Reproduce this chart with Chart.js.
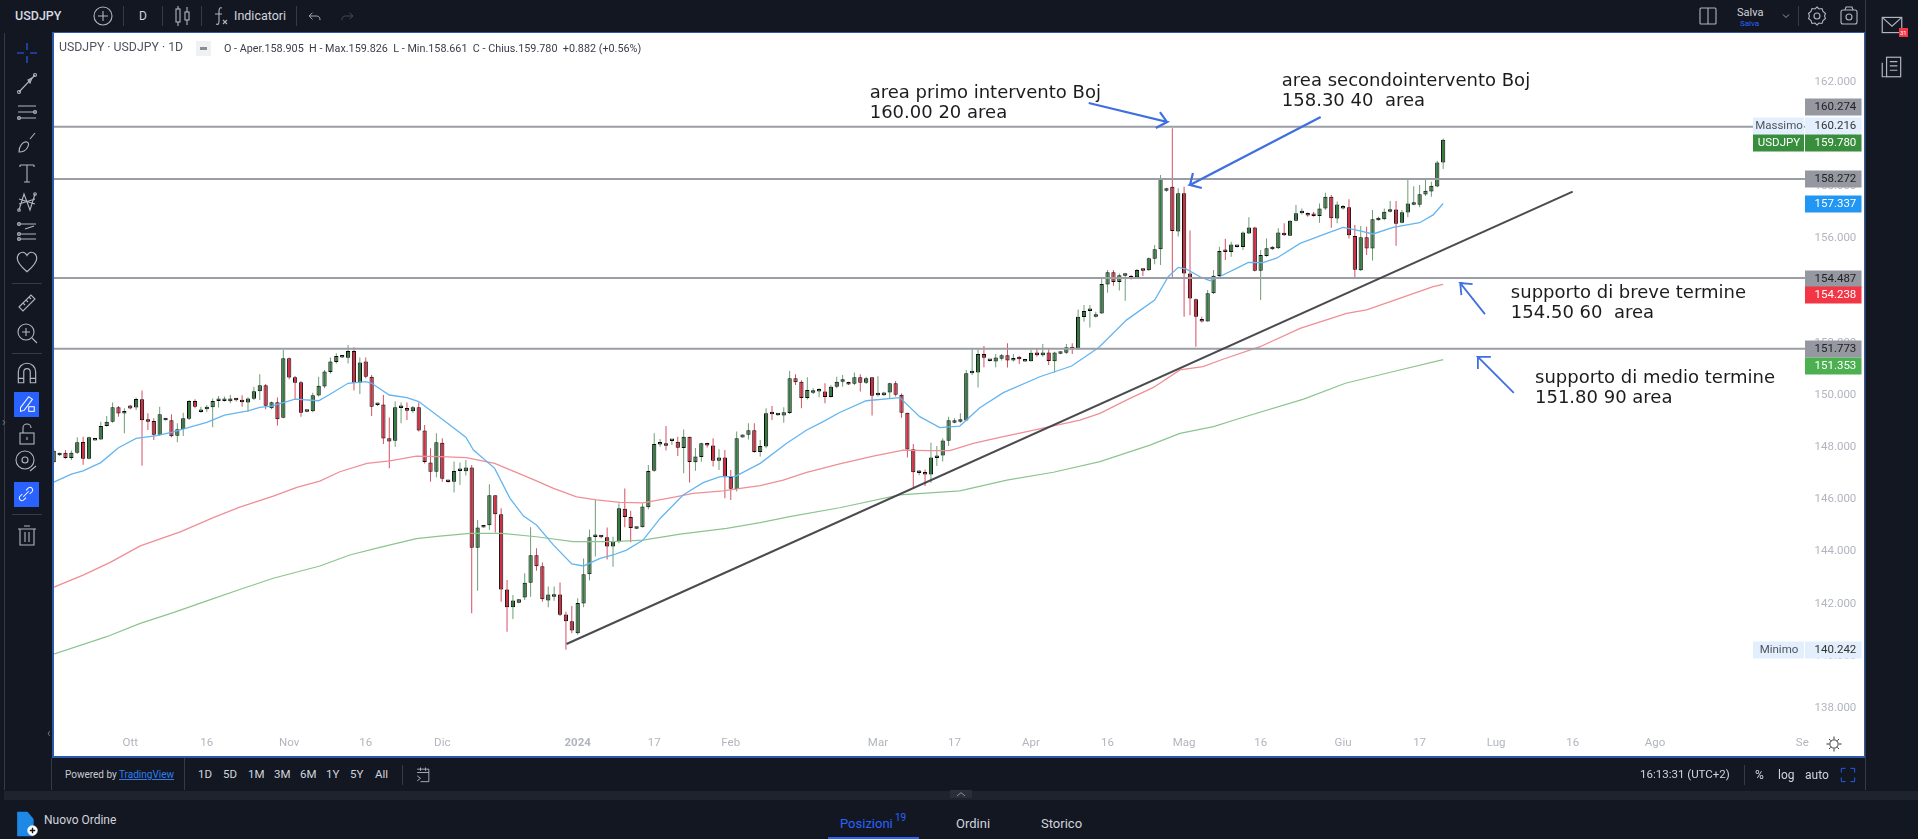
<!DOCTYPE html>
<html><head><meta charset="utf-8"><title>USDJPY</title>
<script src="https://cdn.jsdelivr.net/npm/chart.js@4"></script>
<style>
html,body{margin:0;padding:0;background:#131722;width:1918px;height:839px;overflow:hidden;font-family:Roboto,"Liberation Sans",sans-serif;color:#d1d4dc}
#panel{position:absolute;left:53px;top:33px;width:1811px;height:724px;background:#fff}
canvas{position:absolute;left:0;top:0}
.fr{position:absolute;background:#2c5aa8}
.t{position:absolute;white-space:pre;line-height:1;transform:translateY(-50%)}
.sep{position:absolute;width:1px;background:#363a45}
svg.i{position:absolute;fill:none;stroke:#b2b5be;stroke-width:1.1}
</style></head><body>
<div id="panel"><canvas id="c" width="1811" height="724"></canvas></div>
<div class="fr" style="left:52px;top:32px;width:1812px;height:1px"></div>
<div class="fr" style="left:52px;top:32px;width:1.5px;height:726px"></div>
<div class="fr" style="left:52px;top:756px;width:1813px;height:2px"></div>
<div class="fr" style="left:1863.5px;top:32px;width:1px;height:726px"></div>
<div id="ui"></div>
<script>
const opens=[147.42,147.69,147.79,147.59,147.79,148.20,147.56,148.26,148.30,148.81,
148.98,149.53,149.29,149.60,149.52,149.84,149.00,149.00,148.48,149.03,
149.03,148.44,148.69,149.09,149.77,149.35,149.45,149.53,149.77,149.77,
149.76,149.81,149.76,149.71,149.86,150.14,150.37,149.49,149.72,149.13,
151.41,150.68,150.49,149.36,149.38,149.98,150.33,150.88,151.26,151.44,
151.43,151.69,150.47,151.28,150.70,149.62,149.64,148.34,148.25,149.50,
149.50,149.38,149.53,148.64,147.41,147.06,148.17,146.71,146.68,147.09,
147.08,147.22,144.15,144.92,145.01,146.16,145.43,142.55,141.87,142.04,
142.24,142.81,143.86,143.44,142.13,142.27,142.36,141.59,141.33,140.87,
142.01,143.13,144.56,144.59,144.55,144.20,144.39,145.64,145.33,144.88,
144.93,145.70,147.10,148.10,148.15,148.24,148.21,147.97,148.40,147.42,
147.62,148.09,148.07,147.48,147.61,146.86,146.40,148.37,148.48,148.65,
147.82,148.03,149.29,149.22,149.21,149.31,150.64,150.51,149.89,150.09,
150.13,150.13,149.92,150.32,150.51,150.49,150.43,150.68,150.47,150.68,
149.99,149.99,150.10,150.45,150.01,149.32,147.92,147.01,147.03,146.95,
147.59,147.68,148.25,148.94,148.98,149.02,150.83,150.86,151.57,151.30,
151.28,151.39,151.52,151.32,151.39,151.28,151.29,151.63,151.52,151.63,
151.29,151.58,151.62,151.81,151.75,152.99,153.22,153.00,153.12,154.23,
154.70,154.33,154.57,154.56,154.51,154.79,154.78,155.22,155.58,157.83,
157.98,156.26,157.73,154.66,153.67,152.91,152.82,153.90,154.56,155.53,
155.48,155.67,155.67,156.19,156.42,154.76,155.33,155.58,155.62,156.22,
156.10,156.68,156.96,156.92,156.88,156.86,157.15,157.60,156.76,157.15,
157.19,156.09,154.78,156.04,155.61,156.70,156.73,157.02,157.11,156.60,
156.99,157.29,157.29,157.68,157.80,157.99,158.905];
const closes=[147.86,147.75,147.59,147.79,148.19,147.56,148.38,148.30,148.81,148.98,
149.53,149.29,149.35,149.48,149.85,149.03,148.98,148.48,149.26,149.11,
148.42,148.69,149.11,149.77,149.55,149.41,149.50,149.77,149.80,149.80,
149.87,149.80,149.72,149.87,150.14,150.37,149.59,149.72,149.07,151.41,
150.67,150.47,149.32,149.39,149.99,150.35,150.90,151.28,151.49,151.47,
151.69,150.47,151.25,150.70,149.55,149.64,148.33,148.22,149.53,149.52,
149.40,149.53,148.64,147.43,147.06,148.19,146.79,146.67,147.09,147.11,
147.22,144.15,144.92,145.01,146.16,145.43,142.55,141.87,142.13,142.17,
142.81,143.86,143.44,142.17,142.36,142.36,141.58,141.33,140.98,142.03,
143.13,144.55,144.59,144.55,144.20,144.39,145.66,145.33,144.90,144.94,
145.73,147.09,148.12,148.14,148.06,148.26,147.98,148.40,147.43,147.64,
148.15,148.07,147.48,147.61,146.85,146.41,148.34,148.49,148.65,147.82,
148.05,149.30,149.26,149.25,149.34,150.64,150.49,149.89,150.19,150.13,
150.15,149.92,150.32,150.51,150.54,150.40,150.68,150.47,150.64,149.97,
150.09,150.10,150.45,150.01,149.32,147.91,147.04,147.04,146.95,147.61,
147.68,148.26,149.03,148.97,149.03,150.83,150.86,151.57,151.43,151.33,
151.44,151.52,151.32,151.40,151.37,151.32,151.62,151.52,151.63,151.30,
151.63,151.61,151.83,151.75,153.00,153.22,153.26,153.05,154.25,154.70,
154.33,154.59,154.66,154.46,154.79,154.76,155.24,155.58,158.30,157.88,
156.28,157.73,154.66,153.70,153.00,152.82,153.90,154.57,155.52,155.48,
155.77,155.70,156.23,156.42,154.76,155.36,155.62,155.66,156.23,156.12,
156.68,156.96,156.99,156.88,156.86,157.15,157.60,156.77,157.30,157.18,
156.12,154.80,156.04,155.61,156.73,156.73,157.02,157.11,156.56,157.00,
157.34,157.32,157.69,157.83,158.02,158.91,159.78];
const highs=[147.96,147.79,147.89,147.87,148.38,148.40,148.40,148.30,148.98,149.20,
149.71,149.58,149.49,149.62,149.90,150.17,149.30,149.11,149.55,149.11,
149.26,148.92,149.32,149.81,149.84,149.55,149.62,149.87,149.96,149.94,
150.00,149.87,149.99,149.91,150.32,150.80,150.42,149.75,149.90,151.72,
151.44,150.73,150.54,149.41,150.09,150.70,150.96,151.44,151.60,151.49,
151.92,151.83,151.44,151.44,150.77,149.68,150.00,149.14,149.75,149.71,
149.71,149.58,149.71,148.85,147.96,148.53,148.34,146.73,147.45,147.41,
147.51,147.32,145.21,145.01,146.58,146.16,145.66,142.91,142.34,142.17,
143.17,144.93,144.13,143.58,142.66,142.66,142.82,141.70,141.92,142.21,
143.74,144.85,145.98,144.64,144.92,144.57,145.85,146.42,145.57,144.94,
145.85,147.32,148.53,148.31,148.81,148.28,148.40,148.68,148.40,147.97,
148.17,148.17,148.34,147.92,147.89,147.13,148.60,148.49,148.92,148.92,
148.28,149.49,149.58,149.27,149.53,150.92,150.80,150.57,150.68,150.26,
150.26,150.45,150.38,150.70,150.77,150.51,150.86,150.80,150.70,150.68,
150.72,150.12,150.47,150.54,150.06,149.32,148.12,147.13,147.15,148.17,
148.05,148.34,149.17,149.11,149.30,150.96,151.79,151.79,151.88,151.35,
151.57,151.57,151.98,151.57,151.49,151.34,151.72,151.79,151.95,151.79,
151.66,151.63,151.95,151.98,153.28,153.45,153.45,153.19,154.51,154.79,
154.79,154.66,154.66,154.60,154.83,154.85,155.27,155.75,158.43,157.94,
160.216,157.92,157.98,156.30,153.70,153.00,154.02,154.79,155.68,155.99,
155.87,155.72,156.26,156.81,156.45,155.56,156.00,155.71,156.39,156.58,
156.70,157.28,157.15,156.99,157.02,157.34,157.75,157.66,157.41,157.28,
157.50,156.51,156.48,156.45,157.09,156.83,157.15,157.43,157.43,157.09,
158.28,158.00,158.05,158.24,158.17,158.98,159.826];
const lows=[147.38,147.66,147.56,147.51,147.74,147.33,147.54,148.26,148.28,148.79,
148.94,149.17,148.53,149.45,149.43,147.29,148.66,148.28,148.43,149.02,
148.38,148.19,148.43,149.04,149.49,149.32,149.36,148.76,149.52,149.75,
149.68,149.75,149.55,149.36,149.81,149.81,149.45,149.45,148.83,149.11,
150.60,149.81,149.17,149.34,149.34,149.94,150.26,150.81,151.21,151.42,
151.21,150.17,150.04,150.64,149.20,149.58,148.12,147.19,148.02,148.92,
149.04,149.32,148.60,147.38,146.68,146.85,146.68,146.65,146.26,146.55,
146.92,141.64,142.50,144.92,144.83,144.73,142.08,140.93,141.42,142.02,
142.15,142.27,143.27,142.08,141.87,142.12,141.53,140.242,140.87,140.81,
141.87,142.89,143.81,144.51,143.70,143.42,144.32,144.93,144.36,144.88,
144.92,145.62,147.06,148.02,147.87,148.08,147.66,147.00,146.65,147.10,
147.44,147.99,147.26,147.13,146.04,145.98,146.30,148.37,148.30,147.79,
147.64,147.96,149.04,149.20,148.94,149.27,150.38,149.49,149.83,150.04,
149.91,149.68,149.90,150.26,150.32,150.38,150.38,150.13,150.42,149.21,
149.94,149.96,149.87,149.94,149.13,147.61,146.46,146.93,146.51,146.64,
147.28,147.45,148.05,148.92,148.94,149.00,150.77,150.29,151.06,151.28,
151.06,151.32,151.05,151.28,151.19,151.26,151.28,151.47,151.47,151.15,
150.86,151.56,151.57,151.57,151.72,152.81,152.59,152.97,153.11,153.92,
154.19,154.00,153.61,154.43,154.47,154.56,154.76,155.01,154.98,157.79,
154.51,156.07,153.00,153.06,151.85,152.78,152.81,153.87,154.53,155.17,
155.30,155.65,155.56,156.17,154.73,153.64,155.30,155.56,155.59,156.09,
156.09,156.65,156.92,156.83,156.83,156.60,157.09,156.41,156.58,157.11,
156.00,154.51,154.75,155.36,155.15,156.68,156.70,156.99,155.72,156.58,
156.81,157.27,157.19,157.62,157.60,157.96,158.661];

const blueIdx=[-0.2,3,5,8,11,14,17.5,20,23,26,29,33,35,37,41,45,47,50,53,54,57,60,62,66,70,71.3,74.9,77.5,79.8,82,84.9,88,90,92.8,95,97.3,100.1,103,106.9,110.3,113.2,115.7,120,124.5,127.9,130.7,133.5,138,143.7,147.1,150.5,153.9,157.3,161.3,167.5,172.9,177.5,182.2,187,189.3,191,192.4,194.7,196.4,198,201.5,202.9,205.4,207.7,211.7,216.2,219,221.3,224.1,227.5,232,234.3,236];
const blueVal=[146.64,146.97,147.09,147.41,147.98,148.34,148.44,148.57,148.76,148.95,149.23,149.39,149.53,149.57,149.84,149.78,150.04,150.45,150.51,150.45,150.00,149.90,149.75,149.07,148.38,147.89,147.19,146.04,145.36,145.02,144.25,143.53,143.45,143.74,143.87,144.06,144.44,145.27,146.17,146.64,146.87,146.87,147.38,148.15,148.66,148.98,149.33,149.78,149.90,149.17,148.75,148.81,149.51,150.09,150.70,151.11,151.82,152.87,153.64,154.53,154.89,154.82,154.53,154.38,154.53,154.92,155.08,155.07,155.24,155.81,156.19,156.42,156.32,156.17,156.42,156.60,156.90,157.337];
const redIdx=[-0.2,5,9.6,14.7,21.5,27.1,31.6,37.3,41.3,45.2,48.6,53.2,57.1,61.6,65.6,70.1,74.9,81.4,84.9,88.8,92.2,96.2,100.1,105.2,108.6,113.7,116,120,123.9,127.9,133.5,139.2,144.3,148.8,152.2,156.2,160.7,165.3,169.8,174.3,177.7,182.8,186.8,191.3,195.2,198.6,204.9,211.7,219.6,223,228.6,234.3,236];
const redVal=[142.62,143.10,143.59,144.22,144.76,145.30,145.70,146.13,146.46,146.70,147.06,147.38,147.48,147.66,147.64,147.60,147.38,146.77,146.42,146.10,145.98,145.89,145.87,146.08,146.23,146.33,146.40,146.53,146.74,147.04,147.36,147.66,147.89,147.87,147.87,148.15,148.38,148.60,148.82,149.04,149.30,149.87,150.29,150.96,151.09,151.37,151.85,152.55,153.13,153.26,153.70,154.15,154.238];
const greenIdx=[-0.2,9,14.7,20.3,26,31.6,37.3,45.2,50.3,55.4,61.6,65.6,70.7,76.1,82,88.2,95,100.1,106.4,114.3,120,125,133.5,143.7,153.9,161.9,169.8,177.7,186.2,191.3,197,201.5,212.3,219.4,227.4,236];
const greenVal=[140.06,140.74,141.25,141.66,142.11,142.55,142.98,143.45,143.87,144.16,144.50,144.59,144.70,144.70,144.57,144.38,144.38,144.44,144.67,144.89,145.11,145.34,145.68,146.17,146.33,146.74,147.04,147.45,148.08,148.53,148.79,149.11,149.84,150.45,150.89,151.353];

const levels=[160.274,158.272,154.487,151.773];
const trendIdx=[87.1,258.0];
const trendVal=[140.46,157.79];
const arrowPaths=[
 {x:[187.9,189.1,187.2,189.1,175.8],y:[160.84,160.46,160.23,160.46,161.19],w:2.2},
 {x:[193.5,193.0,195.0,193.0,215.2],y:[158.51,158.05,157.93,158.05,160.65],w:2.2},
 {x:[239.1,238.9,241.0,238.9,243.1],y:[153.83,154.29,154.25,154.29,153.10],w:1.8},
 {x:[241.9,241.9,244.1,241.9,248.0],y:[151.00,151.46,151.46,151.46,150.08],w:1.8}];
const notes=[
 {t:"area primo intervento Boj",x:138.6,y:161.57},{t:"160.00 20 area",x:138.6,y:160.80},
 {t:"area secondointervento Boj",x:208.6,y:162.03},{t:"158.30 40  area",x:208.6,y:161.24},
 {t:"supporto di breve termine",x:247.5,y:153.91},{t:"154.50 60  area",x:247.5,y:153.14},
 {t:"supporto di medio termine",x:251.6,y:150.64},{t:"151.80 90 area",x:251.6,y:149.88}];
const priceTicks=[138,140,142,144,146,148,150,152,154,156,158,160,162];
const timeTickIdx=[13,26,40,53,66,89,102,115,140,153,166,179,192,205,219,232,245,258,272,297];
const timeTickLabels=["Ott","16","Nov","16","Dic","2024","17","Feb","Mar","17","Apr","16","Mag","16","Giu","17","Lug","16","Ago","Se"];
const badges=[
 {v:161.04,l:"160.274",bg:"#9598a1",fg:"#222"},
 {v:160.31,l:"160.216",bg:"#e3effd",fg:"#333",tag:"Massimo",tagBg:"#e3effd",tagFg:"#50535e"},
 {v:159.67,l:"159.780",bg:"#388e3c",fg:"#fff",tag:"USDJPY",tagBg:"#388e3c",tagFg:"#fff"},
 {v:158.272,l:"158.272",bg:"#9598a1",fg:"#222"},
 {v:157.337,l:"157.337",bg:"#2196f3",fg:"#fff"},
 {v:154.45,l:"154.487",bg:"#9598a1",fg:"#222"},
 {v:153.82,l:"154.238",bg:"#f23645",fg:"#fff"},
 {v:151.75,l:"151.773",bg:"#9598a1",fg:"#222"},
 {v:151.10,l:"151.353",bg:"#4caf50",fg:"#fff"},
 {v:140.242,l:"140.242",bg:"#e3effd",fg:"#333",tag:"Minimo",tagBg:"#e3effd",tagFg:"#50535e"}];

const UP="#337a3e",DOWN="#d02c42",UPW="rgba(55,120,65,.72)",DNW="rgba(205,35,60,.8)";
const pairs=(xs,ys)=>xs.map((x,i)=>({x,y:ys[i]}));
const isUp=i=>closes[i]>=opens[i];
const line=(data,color,width,order)=>({type:'line',data,borderColor:color,borderWidth:width,pointRadius:0,tension:0,fill:false,order});
const noPad=s=>{s.paddingLeft=s.paddingRight=s.paddingTop=s.paddingBottom=0;};

const overlay={id:'overlay',afterDraw(ch){
  const {ctx,scales:{x,y},chartArea:a}=ch;
  ctx.save();
  ctx.font='18px "DejaVu Sans"';ctx.fillStyle='#1c1c1c';ctx.textBaseline='middle';ctx.textAlign='left';
  notes.forEach(n=>ctx.fillText(n.t,x.getPixelForValue(n.x),y.getPixelForValue(n.y)));
  ctx.font='11.5px Roboto';
  badges.forEach(b=>{
    const py=Math.round(y.getPixelForValue(b.v)),h=17;
    ctx.fillStyle=b.bg;ctx.fillRect(a.right,py-h/2,56.5,h);
    ctx.fillStyle=b.fg;ctx.textAlign='left';ctx.fillText(b.l,a.right+9.5,py+.5);
    if(b.tag){ctx.fillStyle=b.tagBg;ctx.fillRect(a.right-52,py-h/2,51,h);
      ctx.fillStyle=b.tagFg;ctx.textAlign='center';ctx.fillText(b.tag,a.right-26,py+.5);}
  });
  ctx.restore();
}};

new Chart(document.getElementById('c'),{
 type:'bar',
 data:{datasets:[
  {data:opens.map((o,i)=>({x:i,y:[lows[i],highs[i]]})),backgroundColor:opens.map((o,i)=>isUp(i)?UPW:DNW),borderWidth:0,grouped:false,maxBarThickness:1,order:9},
  {data:opens.map((o,i)=>({x:i,y:[o,closes[i]]})),backgroundColor:opens.map((o,i)=>isUp(i)?UP:DOWN),borderColor:'#0a0a0a',borderWidth:1,borderSkipped:false,grouped:false,maxBarThickness:5,minBarLength:2.5,order:8},
  line(pairs(blueIdx,blueVal),'#64b5f0',1.3,6),
  line(pairs(redIdx,redVal),'#ef8f95',1.3,6),
  line(pairs(greenIdx,greenVal),'#8cc48f',1.2,6),
  ...levels.map(v=>line([{x:-0.12,y:v},{x:297.46,y:v}],'#9c9ea5',2,4)),
  line(pairs(trendIdx,trendVal),'rgba(55,55,60,.9)',2,3),
  ...arrowPaths.map(p=>line(pairs(p.x,p.y),'#3f6fe0',p.w,2))
 ]},
 options:{responsive:false,animation:false,events:[],
  layout:{padding:0},
  plugins:{legend:{display:false},tooltip:{enabled:false}},
  scales:{
   x:{type:'linear',offset:false,min:-0.12,max:297.46,
      grid:{display:false,drawTicks:false,offset:false},border:{display:false},
      afterBuildTicks:s=>{s.ticks=timeTickIdx.map(value=>({value}));},
      afterFit:s=>{s.height=24;noPad(s);},
      ticks:{autoSkip:false,maxRotation:0,padding:3,color:'#b2b5be',
        font:c=>({family:'Roboto',size:11.5,weight:(c.tick&&c.tick.value===89)?'bold':'normal'}),
        callback:v=>timeTickLabels[timeTickIdx.indexOf(v)]}},
   y:{type:'linear',position:'right',min:137.05,max:163.87,
      grid:{display:false,drawTicks:false},border:{display:false},
      afterBuildTicks:s=>{s.ticks=priceTicks.map(value=>({value}));},
      afterFit:s=>{s.width=59;noPad(s);},
      ticks:{autoSkip:false,padding:9.5,color:'#b2b5be',font:{family:'Roboto',size:11.5},callback:v=>v.toFixed(3)}}
  }},
 plugins:[overlay]
});

/* ---- surrounding application chrome ---- */
const ui=document.getElementById('ui');
function T(s,x,y,size,color,extra){const e=document.createElement('div');e.className='t';e.textContent=s;
  e.style.cssText=`left:${x}px;top:${y}px;font-size:${size}px;color:${color};${extra||''}`;ui.appendChild(e);return e;}
function S(x,y,w,h){const e=document.createElement('div');e.className='sep';e.style.cssText=`left:${x}px;top:${y}px;height:${h}px;width:${w}px`;ui.appendChild(e);}
function I(x,y,body,size,col){const s=size||24;ui.insertAdjacentHTML('beforeend',`<svg class="i" width="${s}" height="${s}" viewBox="0 0 24 24" style="left:${x-s/2}px;top:${y-s/2}px;${col?'stroke:'+col:''}">${body}</svg>`);}
function B(x,y,w,h,c){const e=document.createElement('div');e.style.cssText=`position:absolute;left:${x}px;top:${y}px;width:${w}px;height:${h}px;background:${c}`;ui.appendChild(e);}

/* chart legend */
T("USDJPY · USDJPY · 1D",59,47,12.3,"#50535e");
T("O - Aper.158.905  H - Max.159.826  L - Min.158.661  C - Chius.159.780  +0.882 (+0.56%)",224,48.5,10.8,"#3a3d47");
B(196,41,15,15,"#f0f1f3");B(200,47,7,3,"#8a8d96");

/* top bar */
T("USDJPY",15,16,12.5,"#d8dae0","font-weight:500");
I(103,16,'<circle cx="12" cy="12" r="9"/><path d="M12 7v10M7 12h10"/>');
T("D",139,16,12,"#d1d4dc");
I(182,16,'<rect x="6" y="5" width="4" height="13"/><path d="M8 2v3M8 18v4"/><rect x="15" y="8" width="4" height="8"/><path d="M17 3v5M17 16v5"/>');
I(221,16,'<path d="M13 4c-3-1-3 2-3 4v9c0 3-1 4-3 3M6 10h7M14 16l4 4M18 16l-4 4"/>');
T("Indicatori",234,16,12.5,"#d1d4dc");
I(315,16,'<path d="M9 8l-4 4 4 4M5 12h9c3 0 4 2 4 5"/>',20);
I(347,16,'<path d="M15 8l4 4-4 4M19 12h-9c-3 0-4 2-4 5"/>',20,'#4a4e59');
[123,162,201,296,1798].forEach(x=>S(x,6,1,20));
I(1708,16,'<rect x="4" y="4" width="16" height="16" rx="1"/><path d="M12 4v16"/>');
T("Salva",1737,12,11,"#d1d4dc");T("Salva",1740,23.5,8,"#2962ff");
I(1786,16,'<path d="M8 10l4 4 4-4"/>',18);
I(1817,16,'<circle cx="12" cy="12" r="3"/><path d="M12 3l2 2 3-.5 1 3 2.500 2-1 2.500 1 2.500-2.500 2-1 3-3-.5-2 2-2-2-3 .5-1-3-2.500-2 1-2.500-1-2.500 2.500-2 1-3 3 .5z"/>');
I(1849,16,'<rect x="4" y="6" width="16" height="14" rx="2"/><circle cx="12" cy="13" r="3"/><path d="M8 6l1-3h6l1 3"/>');
/* right rail */
S(1865,0,1,790);
I(1892,25,'<rect x="3" y="5" width="18" height="14"/><path d="M3 5l9 8 9-8"/>',26);
B(1899,28,9,9,"#f23645");T("31",1900,32.5,6,"#fff");
I(1892,67,'<rect x="7" y="3" width="13" height="18"/><path d="M3 8v13h4M10 7h7M10 11h7M10 15h7"/>',26);

/* left toolbar */
S(4,33,1,757);
I(27,53,'<path d="M12 2v7M12 15v7M2 12h7M15 12h7"/>',24,'#2962ff');
I(27,83,'<path d="M4 21L20 4"/><circle cx="4" cy="21" r="1.500"/><circle cx="20" cy="4" r="1.500"/><path d="M13 9l4-2-2 5z"/>');
I(27,113,'<path d="M3 5h18M3 11h18M3 17h18"/><circle cx="20" cy="11" r="1.500"/><circle cx="4" cy="17" r="1.500"/>');
I(27,143,'<path d="M4 21c0-6 4-11 8-10 3 1 1 7-3 9-2 1-5 1-5 1zM15 8l5-6"/>');
I(27,173,'<path d="M5 4h14M12 4v17M9 21h6M5 4v2M19 4v2"/>');
I(27,202,'<path d="M4 20L9 4l6 16 5-16M4 9l16 5M4 14l16-5"/><circle cx="4" cy="20" r="1.300"/><circle cx="20" cy="4" r="1.300"/>');
I(27,232,'<path d="M3 4h18M3 19h18M3 14h18M10 9l9-3"/><circle cx="4" cy="4" r="1.500"/><circle cx="4" cy="14" r="1.500"/><circle cx="4" cy="19" r="1.500"/>');
I(27,262,'<path d="M12 21C5 15 3 12 3 8.500 3 5 6 3 8 3c2 0 3 1 4 3 1-2 2-3 4-3 2 0 5 2 5 5.500C21 12 19 15 12 21z"/>',26);
B(12,283,30,1,"#363a45");
I(27,303,'<path d="M4 16L16 4l4 4L8 20zM8 12l2 2M11 9l2 2M14 6l2 2"/>');
I(27,333,'<circle cx="11" cy="11" r="8"/><path d="M11 7v8M7 11h8M17 17l5 5"/>');
B(12,353,30,1,"#363a45");
I(27,373,'<path d="M4 21V11a8 8 0 0116 0v10h-5V11a3 3 0 00-6 0v10zM4 17h5M15 17h5"/>',26);
B(14,392,25,25,"#2962ff");
I(26,404,'<path d="M6 16L15 4l4 3-9 12-4 1z"/><rect x="15" y="15" width="6" height="5"/>',22,'#fff');
I(27,434,'<rect x="5" y="11" width="14" height="11"/><path d="M8 11V6a4 4 0 018 0M12 15v3"/>');
I(26,461,'<circle cx="11" cy="11" r="9"/><circle cx="11" cy="11" r="3"/><path d="M16 22l6-5"/>');
B(14,482,25,25,"#2962ff");
I(26,494,'<path d="M9 15l6-6M8 12l-3 3a3 3 0 004 4l3-3M16 12l3-3a3 3 0 00-4-4l-3 3"/>',22,'#fff');
B(12,514,30,1,"#363a45");
I(27,535,'<path d="M5 6h14v16H5zM3 6h18M9 3h6M10 9v10M14 9v10"/>');
T("›",2,422,12,"#787b86");T("‹",47,733,12,"#787b86");

/* time axis sun icon */
I(1834,744,'<circle cx="12" cy="12" r="5"/><path d="M12 3v3M12 18v3M3 12h3M18 12h3M6 6l2 2M16 16l2 2M6 18l2-2M16 8l2-2"/>',20,'#222');

/* range bar */
T("Powered by",65,775,10,"#c8cad0");
T("TradingView",119,775,10,"#2e7ef0","text-decoration:underline");
S(51,758,1,32);S(184,758,1,32);
[["1D",198],["5D",223],["1M",248],["3M",274],["6M",300],["1Y",326],["5Y",350],["All",375]].forEach(r=>T(r[0],r[1],775,11.5,"#d1d4dc"));
S(402,765,1,20);
I(423,775,'<path d="M5 5h14v15H9M5 9h14M9 3v4M15 3v4M5 13l4 3-4 3"/>',20);
T("16:13:31 (UTC+2)",1640,775,11.5,"#d1d4dc");
S(1744,765,1,20);
T("%",1755,775,12,"#d1d4dc");T("log",1778,775,12,"#d1d4dc");T("auto",1805,775,12,"#d1d4dc");
I(1848,775,'<path d="M4 9V4h5M15 4h5v5M20 15v5h-5M9 20H4v-5"/>',20,'#2962ff');

/* separator + lower panel */
B(4,791,1914,9,"#1f232d");
B(950,790,22,8,"#2a2e39");
I(961,794,'<path d="M6 15l6-5 6 5"/>',16);
I(26,824,'<path d="M5 2h8l5 6v14H5z" fill="#1e88e5" stroke="#1e88e5"/>',28);
I(32,830,'<circle cx="12" cy="12" r="9" fill="#fff" stroke="#fff"/><path d="M12 7v10M7 12h10" stroke="#111" stroke-width="2.500"/>',13);
T("Nuovo Ordine",44,820,12,"#d1d4dc");
T("Posizioni",840,823,13,"#2962ff");T("19",895,818,10,"#2962ff");
T("Ordini",956,823,13,"#d1d4dc");T("Storico",1041,823,13,"#d1d4dc");
B(828,837,91,2,"#2962ff");
</script>
</body></html>
